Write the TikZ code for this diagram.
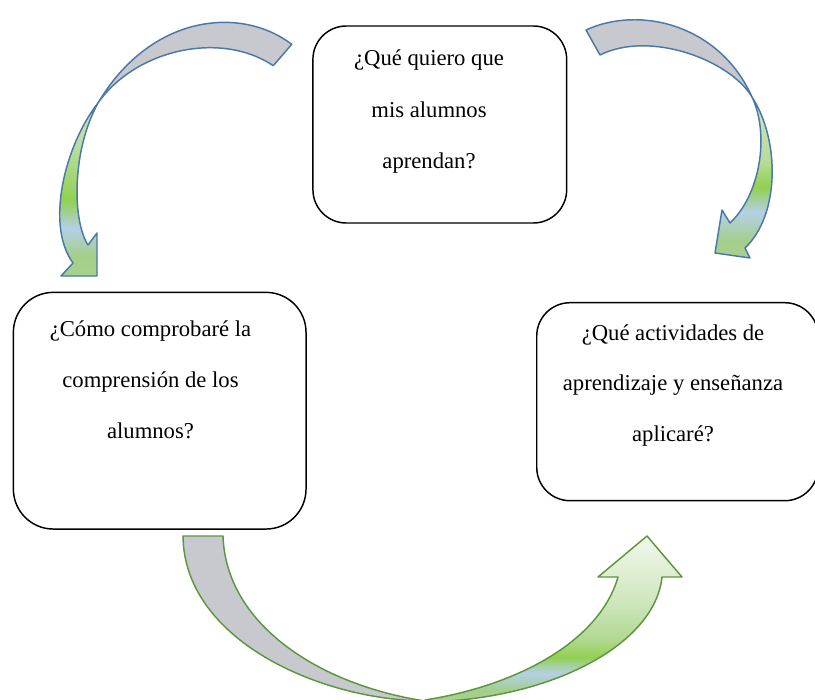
\documentclass[tikz,border=0pt]{standalone}
\usepackage{fontspec}
\setmainfont{Liberation Serif}
\definecolor{arrgray}{HTML}{C8C9CE}
\definecolor{blueline}{HTML}{4A78A8}
\definecolor{greenline}{HTML}{5E9640}
\definecolor{gA}{HTML}{D2E8C2}
\definecolor{gB}{HTML}{B7DC9C}
\definecolor{gC}{HTML}{92D050}
\definecolor{gD}{HTML}{B4D0E8}
\definecolor{gE}{HTML}{A3CF8B}
\definecolor{gF}{HTML}{A9D18E}
\definecolor{gW}{HTML}{F4F9F1}
\definecolor{gL}{HTML}{CFE7BE}
\definecolor{gM}{HTML}{B0D890}

% green (head) parts of the three curved arrows
\newcommand\TLgreen[1]{\path[#1] (98,103) .. controls (65,145) and (45,225) .. (73,263) -- (61,276) -- (97,276) -- (97,233) -- (88,245) .. controls (72,220) and (72,150) .. (98,103) -- cycle;}
\newcommand\TRgreen[1]{\path[#1] (752,97) .. controls (780,140) and (780,215) .. (745,248) -- (750,258) -- (715,253) -- (722,210) -- (730,223) .. controls (760,195) and (770,135) .. (752,97) -- cycle;}
\newcommand\BTgreen[1]{\path[#1] (425,700) .. controls (520,685) and (600,640) .. (618,577) -- (598,577) -- (647,536) -- (682,577) -- (662,577) .. controls (655,645) and (550,700) .. (425,702) -- cycle;}

\tikzset{
  box/.style={draw=black, line width=1.1pt, fill=white, inner sep=0pt, outer sep=0pt},
  txt/.style={anchor=base, inner sep=0pt, font=\fontsize{17}{20}\selectfont},
  bluearrow/.style={draw=blueline, line width=1.1pt, line join=round},
  greenarrow/.style={draw=greenline, line width=1.1pt, line join=round},
}

\begin{document}
\begin{tikzpicture}[x=0.75pt, y=-0.75pt]
\path[use as bounding box, fill=white] (0,0) rectangle (815,700);

% ---- top-left curved arrow ----
\path[bluearrow, fill=arrgray] (291.7,44.3) .. controls (240,5) and (150,15) .. (98,103) .. controls (135,50) and (220,30) .. (273.3,65.7) -- cycle;
\begin{scope}
  \TLgreen{clip}
  \shade[top color=gA, bottom color=gB] (40,95) rectangle (125,150.5);
  \shade[top color=gB, bottom color=gC] (40,150) rectangle (125,200.5);
  \shade[top color=gC, bottom color=gD] (40,200) rectangle (125,228.5);
  \shade[top color=gD, bottom color=gE] (40,228) rectangle (125,255.5);
  \shade[top color=gE, bottom color=gF] (40,255) rectangle (125,285);
\end{scope}
\TLgreen{bluearrow}

% ---- top-right curved arrow ----
\path[bluearrow, fill=arrgray] (586,30) .. controls (640,5) and (720,25) .. (752,97) .. controls (730,60) and (650,30) .. (600,55) -- cycle;
\begin{scope}
  \TRgreen{clip}
  \shade[top color=gA, bottom color=gB] (700,90) rectangle (790,160.5);
  \shade[top color=gB, bottom color=gC] (700,160) rectangle (790,187.5);
  \shade[top color=gC, bottom color=gD] (700,187) rectangle (790,212.5);
  \shade[top color=gD, bottom color=gE] (700,212) rectangle (790,240.5);
  \shade[top color=gE, bottom color=gF] (700,240) rectangle (790,265);
\end{scope}
\TRgreen{bluearrow}

% ---- bottom curved arrow ----
\path[greenarrow, fill=arrgray] (183,536) .. controls (184,640) and (320,700) .. (425,701) .. controls (320,685) and (226,625) .. (223,536) -- cycle;
\begin{scope}
  \BTgreen{clip}
  \shade[top color=gW, bottom color=gL] (410,530) rectangle (690,600.5);
  \shade[top color=gL, bottom color=gM] (410,600) rectangle (690,640.5);
  \shade[top color=gM, bottom color=gC] (410,640) rectangle (690,657.5);
  \shade[top color=gC, bottom color=gD] (410,657) rectangle (690,673.5);
  \shade[top color=gD, bottom color=gE] (410,673) rectangle (690,690.5);
  \shade[top color=gE, bottom color=gF] (410,690) rectangle (690,705);
\end{scope}
\BTgreen{greenarrow}

% ---- boxes ----
\node[box, rounded corners=25pt, minimum width=190.3pt, minimum height=147.75pt] (q1) at (439.8,124.5) {};
\node[box, rounded corners=30pt, minimum width=219.5pt, minimum height=177.5pt] (q2) at (159.7,410.7) {};
\node[box, rounded corners=25pt, minimum width=211pt, minimum height=148.5pt] (q3) at (677.4,401.7) {};

% ---- texts ----
\node[txt] (q1a) at (429,65) {¿Qué quiero que};
\node[txt] (q1b) at (429,117) {mis alumnos};
\node[txt] (q1c) at (429,168.5) {aprendan?};

\node[txt] (q2a) at (150.5,336.7) {¿Cómo comprobaré la};
\node[txt] (q2b) at (150.5,387.5) {comprensión de los};
\node[txt] (q2c) at (150.5,438) {alumnos?};

\node[txt] (q3a) at (673,340) {¿Qué actividades de};
\node[txt] (q3b) at (673,390.7) {aprendizaje y enseñanza};
\node[txt] (q3c) at (673,441.7) {aplicaré?};
\end{tikzpicture}
\end{document}
